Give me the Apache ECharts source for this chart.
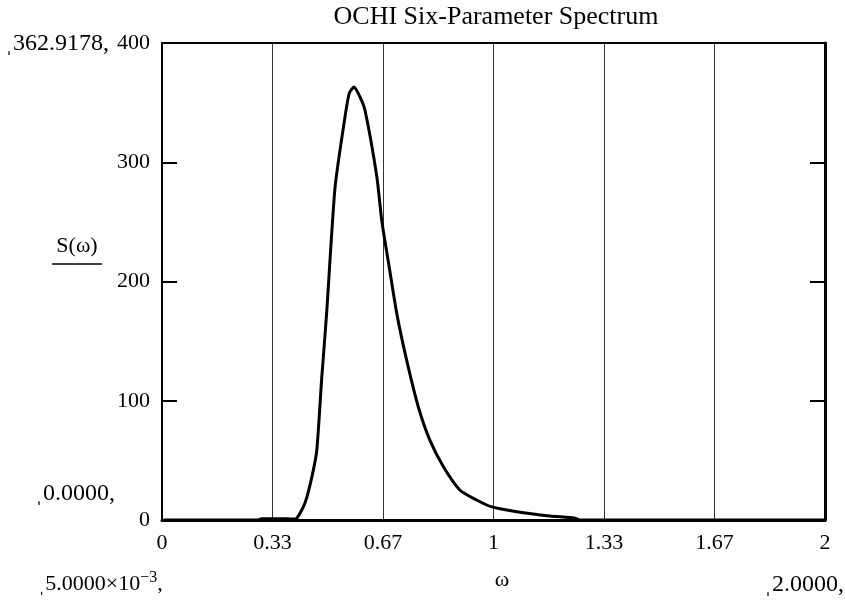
<!DOCTYPE html>
<html>
<head>
<meta charset="utf-8">
<script src="https://cdn.jsdelivr.net/npm/echarts@6/dist/echarts.min.js"></script>
<style>
  html, body { margin: 0; padding: 0; background: #fff; }
</style>
</head>
<body>
<div id="main" style="width:845px;height:607px"></div>
<script>
// omega values (rad/s) and spectral density
var omega = [0.005, 0.29, 0.30, 0.38, 0.386, 0.406, 0.431, 0.452, 0.467, 0.482, 0.486, 0.497,
  0.522, 0.552, 0.565, 0.579, 0.595, 0.612, 0.648, 0.663, 0.682, 0.709, 0.738, 0.773, 0.808,
  0.849, 0.899, 0.949, 0.995, 1.07, 1.17, 1.246, 1.26, 1.6, 2.0];
var spectrum = [0, 0, 1, 1, 0.8, 1.4, 14, 36, 58.7, 120, 134, 175,
  279, 338, 358, 363, 356, 344, 288, 251, 218, 172, 134, 95, 67,
  44.7, 25, 16.8, 11, 7, 3.4, 1.5, 0, 0, 0];
var yTicks = [0, 100, 200, 300, 400];
var xTickLabels = ['0', '0.33', '0.67', '1', '1.33', '1.67', '2'];

var serif = '"Liberation Serif", "DejaVu Serif", serif';
var font22 = '22px ' + serif;
var font24 = '24px ' + serif;

var chartDom = document.getElementById('main');
var myChart = echarts.init(chartDom);
var option;

option = {
  animation: false,
  backgroundColor: '#fff',
  title: {
    text: 'OCHI Six-Parameter Spectrum',
    left: 496,
    textAlign: 'center',
    top: 4,
    padding: 0,
    textStyle: { fontFamily: serif, fontSize: 26, fontWeight: 'normal', color: '#000' }
  },
  grid: { left: 162, right: 20, top: 43, bottom: 87 },
  xAxis: [
    {
      type: 'value',
      min: 0,
      max: 2,
      interval: 1 / 3,
      axisLine: { show: true, onZero: false, lineStyle: { color: '#000', width: 3 } },
      axisTick: { show: false },
      axisLabel: {
        margin: 12,
        fontFamily: serif,
        fontSize: 22,
        color: '#000',
        formatter: function (v) {
          var i = Math.round(v * 3);
          return xTickLabels[i] !== undefined ? xTickLabels[i] : '';
        }
      },
      splitLine: { show: true, lineStyle: { color: '#333', width: 1 } }
    },
    {
      type: 'value',
      position: 'top',
      min: 0,
      max: 2,
      axisLine: { show: true, onZero: false, lineStyle: { color: '#000', width: 2 } },
      axisTick: { show: false },
      axisLabel: { show: false },
      splitLine: { show: false }
    }
  ],
  yAxis: [
    {
      type: 'value',
      min: 0,
      max: 400,
      interval: 100,
      axisLine: { show: true, onZero: false, lineStyle: { color: '#000', width: 2 } },
      axisTick: { show: true, inside: true, length: 15, lineStyle: { color: '#000', width: 2 } },
      axisLabel: {
        margin: 12,
        fontFamily: serif,
        fontSize: 22,
        color: '#000',
        formatter: function (v) { return yTicks.indexOf(v) >= 0 ? String(v) : ''; }
      },
      splitLine: { show: false }
    },
    {
      type: 'value',
      position: 'right',
      min: 0,
      max: 400,
      interval: 100,
      axisLine: { show: true, onZero: false, lineStyle: { color: '#000', width: 3 } },
      axisTick: { show: true, inside: true, length: 15, lineStyle: { color: '#000', width: 2 } },
      axisLabel: { show: false },
      splitLine: { show: false }
    }
  ],
  graphic: [
    { type: 'text', x: 5, y: 44, style: { text: 'ˌ362.9178,', font: font24, fill: '#000', verticalAlign: 'middle' } },
    { type: 'text', x: 35, y: 494, style: { text: 'ˌ0.0000,', font: font24, fill: '#000', verticalAlign: 'middle' } },
    {
      type: 'text', x: 38, y: 584,
      style: {
        text: '{n|ˌ5.0000×10}{s|−3}{n|,}',
        verticalAlign: 'middle',
        rich: {
          n: { font: font22, fill: '#000' },
          s: { font: '16px ' + serif, fill: '#000', padding: [0, 0, 12, 0] }
        }
      }
    },
    { type: 'text', x: 764, y: 585, style: { text: 'ˌ2.0000,', font: font24, fill: '#000', verticalAlign: 'middle' } },
    { type: 'text', x: 502, y: 580, style: { text: 'ω', font: font22, fill: '#000', align: 'center', verticalAlign: 'middle' } },
    { type: 'text', x: 77, y: 246, style: { text: 'S(ω)', font: font22, fill: '#000', align: 'center', verticalAlign: 'middle' } },
    { type: 'line', shape: { x1: 52, y1: 264, x2: 102, y2: 264 }, style: { stroke: '#000', lineWidth: 1.5 } }
  ],
  series: [
    {
      name: 'S(ω)',
      type: 'line',
      xAxisIndex: 0,
      yAxisIndex: 0,
      showSymbol: false,
      smooth: 0.2,
      lineStyle: { color: '#000', width: 3 },
      data: omega.map(function (w, i) { return [w, spectrum[i]]; })
    }
  ]
};

option && myChart.setOption(option);
</script>
</body>
</html>
